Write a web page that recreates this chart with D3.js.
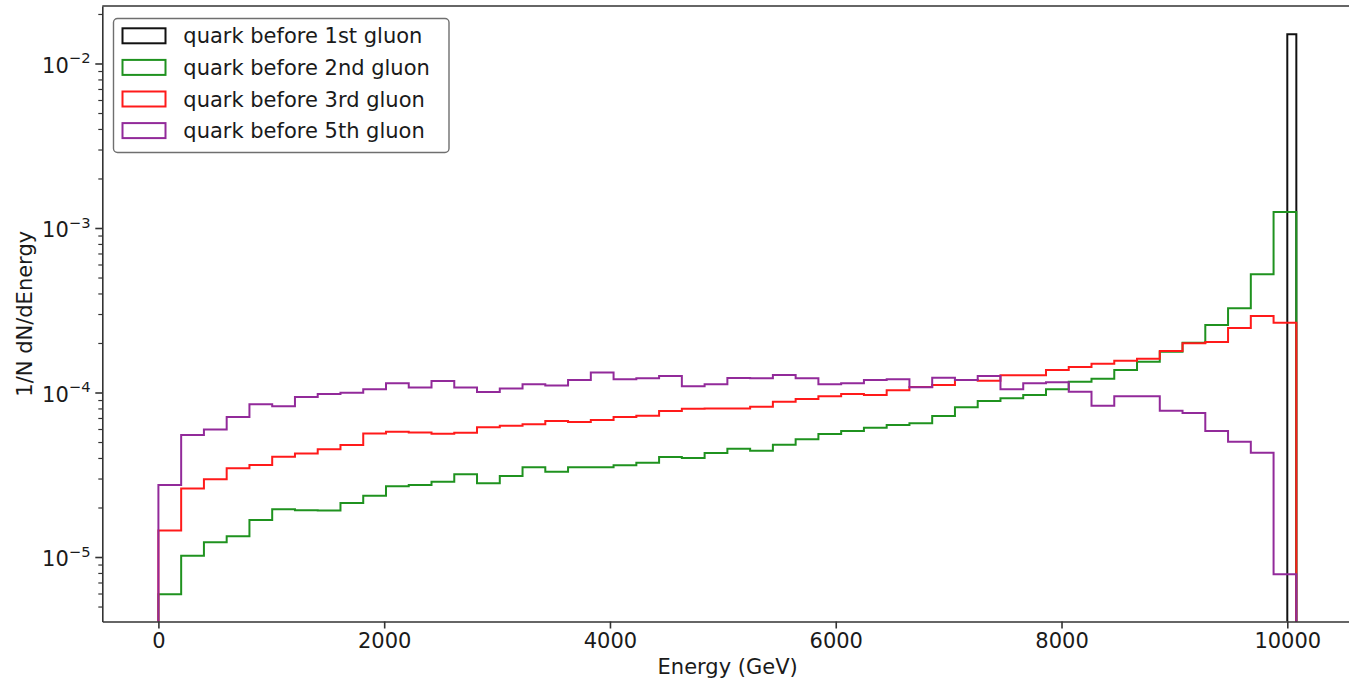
<!DOCTYPE html>
<html>
<head>
<meta charset="utf-8">
<script src="https://cdn.jsdelivr.net/npm/d3@7"></script>
<style>
  body { margin: 0; background: #ffffff; }
  svg { display: block; }
  text { font-family: "DejaVu Sans", sans-serif; fill: #1a1a1a; }
</style>
</head>
<body>
<svg id="chart" width="1349" height="681"></svg>
<script>
// ---------------- data ----------------
const energyLow = 0;          // GeV, first bin edge
const energyHigh = 10080;     // GeV, last bin edge
const nBins = 50;

const seriesLabels = [
  "quark before 1st gluon",
  "quark before 2nd gluon",
  "quark before 3rd gluon",
  "quark before 5th gluon"
];
const seriesColors = ["#111111", "#1f921f", "#ff1a1a", "#922a9a"];

// quark before 1st gluon: a single narrow spike near 10 TeV
const firstGluonEdges = [10000, 10080];
const firstGluonValues = [1.505e-2];

// 1/N dN/dEnergy per bin (50 bins from 0 to 10080 GeV)
const secondGluonValues = [
  5.94e-6, 1.018e-5, 1.23e-5, 1.336e-5, 1.678e-5, 1.95e-5, 1.925e-5, 1.92e-5, 2.13e-5, 2.36e-5,
  2.69e-5, 2.74e-5, 2.87e-5, 3.18e-5, 2.81e-5, 3.11e-5, 3.51e-5, 3.30e-5, 3.51e-5, 3.51e-5,
  3.61e-5, 3.74e-5, 4.05e-5, 4.0e-5, 4.29e-5, 4.55e-5, 4.43e-5, 4.82e-5, 5.19e-5, 5.59e-5,
  5.83e-5, 6.11e-5, 6.34e-5, 6.50e-5, 7.20e-5, 8.13e-5, 8.88e-5, 9.22e-5, 9.66e-5, 1.046e-4,
  1.163e-4, 1.213e-4, 1.37e-4, 1.539e-4, 1.77e-4, 2.008e-4, 2.572e-4, 3.25e-4, 5.23e-4, 1.251e-3
];
const thirdGluonValues = [
  1.45e-5, 2.61e-5, 2.97e-5, 3.46e-5, 3.63e-5, 4.07e-5, 4.26e-5, 4.52e-5, 4.80e-5, 5.63e-5,
  5.78e-5, 5.71e-5, 5.62e-5, 5.70e-5, 6.14e-5, 6.28e-5, 6.42e-5, 6.71e-5, 6.62e-5, 6.81e-5,
  7.10e-5, 7.23e-5, 7.72e-5, 7.97e-5, 8.0e-5, 8.0e-5, 8.20e-5, 8.79e-5, 9.13e-5, 9.48e-5,
  9.79e-5, 9.66e-5, 1.031e-4, 1.080e-4, 1.111e-4, 1.191e-4, 1.18e-4, 1.272e-4, 1.272e-4, 1.37e-4,
  1.429e-4, 1.497e-4, 1.561e-4, 1.605e-4, 1.788e-4, 1.991e-4, 2.028e-4, 2.466e-4, 2.917e-4, 2.657e-4
];
const fifthGluonValues = [
  2.74e-5, 5.52e-5, 5.96e-5, 7.10e-5, 8.48e-5, 8.24e-5, 9.39e-5, 9.79e-5, 9.97e-5, 1.046e-4,
  1.137e-4, 1.072e-4, 1.175e-4, 1.072e-4, 1.007e-4, 1.058e-4, 1.122e-4, 1.103e-4, 1.191e-4, 1.323e-4,
  1.205e-4, 1.222e-4, 1.26e-4, 1.092e-4, 1.123e-4, 1.225e-4, 1.22e-4, 1.278e-4, 1.22e-4, 1.122e-4,
  1.137e-4, 1.191e-4, 1.205e-4, 1.076e-4, 1.23e-4, 1.191e-4, 1.26e-4, 1.046e-4, 1.137e-4, 1.153e-4,
  1.011e-4, 8.31e-5, 9.48e-5, 9.48e-5, 7.75e-5, 7.50e-5, 5.83e-5, 5.02e-5, 4.31e-5, 7.85e-6
];

const xTickValues = [0, 2000, 4000, 6000, 8000, 10000];
const yMajorExponents = [-5, -4, -3, -2];
const xLabel = "Energy (GeV)";
const yLabel = "1/N dN/dEnergy";

// ---------------- layout ----------------
const svg = d3.select("#chart");
const plot = { left: 102.3, right: 1353, top: 6, bottom: 621.5 };

const x = d3.scaleLinear().domain([-497, 10582]).range([plot.left, plot.right]);
const y = d3.scaleLog().domain([Math.pow(10, -5.392), Math.pow(10, -1.6505)]).range([plot.bottom, plot.top]);

const binW = (energyHigh - energyLow) / nBins;
const regularEdges = d3.range(nBins + 1).map(i => energyLow + i * binW);

svg.append("clipPath").attr("id", "plotclip")
  .append("rect").attr("x", plot.left).attr("y", plot.top)
  .attr("width", plot.right - plot.left).attr("height", plot.bottom - plot.top);

// step histogram path
function stepPoints(edges, values) {
  const pts = [[edges[0], null]];
  values.forEach((v, i) => pts.push([edges[i], v]));
  pts.push([edges[edges.length - 1], null]);
  return pts;
}
const line = d3.line()
  .x(d => x(d[0]))
  .y(d => (d[1] && d[1] > 0) ? y(d[1]) : plot.bottom + 2)
  .curve(d3.curveStepAfter);

const histograms = [
  { edges: firstGluonEdges, values: firstGluonValues, color: seriesColors[0] },
  { edges: regularEdges, values: secondGluonValues, color: seriesColors[1] },
  { edges: regularEdges, values: thirdGluonValues, color: seriesColors[2] },
  { edges: regularEdges, values: fifthGluonValues, color: seriesColors[3] }
];

const gData = svg.append("g").attr("clip-path", "url(#plotclip)");
histograms.forEach(h => {
  gData.append("path")
    .attr("d", line(stepPoints(h.edges, h.values)))
    .attr("fill", "none")
    .attr("stroke", h.color)
    .attr("stroke-width", 2)
    .attr("stroke-linejoin", "miter");
});

// ---------------- axes ----------------
const axisColor = "#333333";

// x axis
const gx = svg.append("g").attr("transform", `translate(0,${plot.bottom})`)
  .call(d3.axisBottom(x).tickValues(xTickValues).tickFormat(d3.format("d"))
    .tickSize(7).tickSizeOuter(0).tickPadding(4.5));
gx.select(".domain").attr("stroke", axisColor).attr("stroke-width", 1.6);
gx.selectAll(".tick line").attr("stroke", axisColor).attr("stroke-width", 1.6);
gx.selectAll(".tick text").attr("font-size", 21).attr("font-family", "DejaVu Sans").attr("fill", "#1a1a1a");

// y axis: major + minor ticks
const majorVals = yMajorExponents.map(e => Math.pow(10, e));
const minorVals = [];
[-6, -5, -4, -3, -2].forEach(e => {
  for (let m = 2; m <= 9; m++) {
    const v = m * Math.pow(10, e);
    if (v >= y.domain()[0] && v <= y.domain()[1]) minorVals.push(v);
  }
});
const gy = svg.append("g").attr("transform", `translate(${plot.left},0)`)
  .call(d3.axisLeft(y).tickValues(majorVals).tickFormat("").tickSize(7).tickSizeOuter(0));
gy.select(".domain").attr("stroke", axisColor).attr("stroke-width", 1.6);
gy.selectAll(".tick line").attr("stroke", axisColor).attr("stroke-width", 1.6);
const gyMinor = svg.append("g").attr("transform", `translate(${plot.left},0)`)
  .call(d3.axisLeft(y).tickValues(minorVals).tickFormat("").tickSize(4).tickSizeOuter(0));
gyMinor.select(".domain").remove();
gyMinor.selectAll(".tick line").attr("stroke", axisColor).attr("stroke-width", 1.2);

// y tick labels 10^e
yMajorExponents.forEach(e => {
  const t = svg.append("text")
    .attr("x", 90.5)
    .attr("y", y(Math.pow(10, e)) + 9.3)
    .attr("text-anchor", "end")
    .attr("font-size", 21);
  t.append("tspan").text("10");
  t.append("tspan").attr("font-size", 14.7).attr("dy", -9.8).text("\u2212" + Math.abs(e));
});

// top spine
svg.append("line").attr("x1", plot.left).attr("x2", plot.right)
  .attr("y1", plot.top).attr("y2", plot.top)
  .attr("stroke", axisColor).attr("stroke-width", 1.6);

// axis labels
svg.append("text").attr("x", (x(-497) + x(10582)) / 2).attr("y", 674)
  .attr("text-anchor", "middle").attr("font-size", 21).text(xLabel);
svg.append("text")
  .attr("transform", `translate(31.5,${(plot.top + plot.bottom) / 2}) rotate(-90)`)
  .attr("text-anchor", "middle").attr("font-size", 21).text(yLabel);

// ---------------- legend ----------------
const legend = svg.append("g");
legend.append("rect")
  .attr("x", 113.5).attr("y", 18.5).attr("width", 335.5).attr("height", 134)
  .attr("rx", 4).attr("ry", 4)
  .attr("fill", "#ffffff").attr("fill-opacity", 0.85)
  .attr("stroke", "#6f6f6f").attr("stroke-width", 1.4);
seriesLabels.forEach((lab, i) => {
  const base = 43.3 + i * 31.6;
  legend.append("rect")
    .attr("x", 122.5).attr("y", base - 15).attr("width", 43).attr("height", 15)
    .attr("fill", "none").attr("stroke", seriesColors[i]).attr("stroke-width", 2);
  legend.append("text").attr("x", 183.3).attr("y", base)
    .attr("font-size", 21).text(lab);
});
</script>
</body>
</html>
